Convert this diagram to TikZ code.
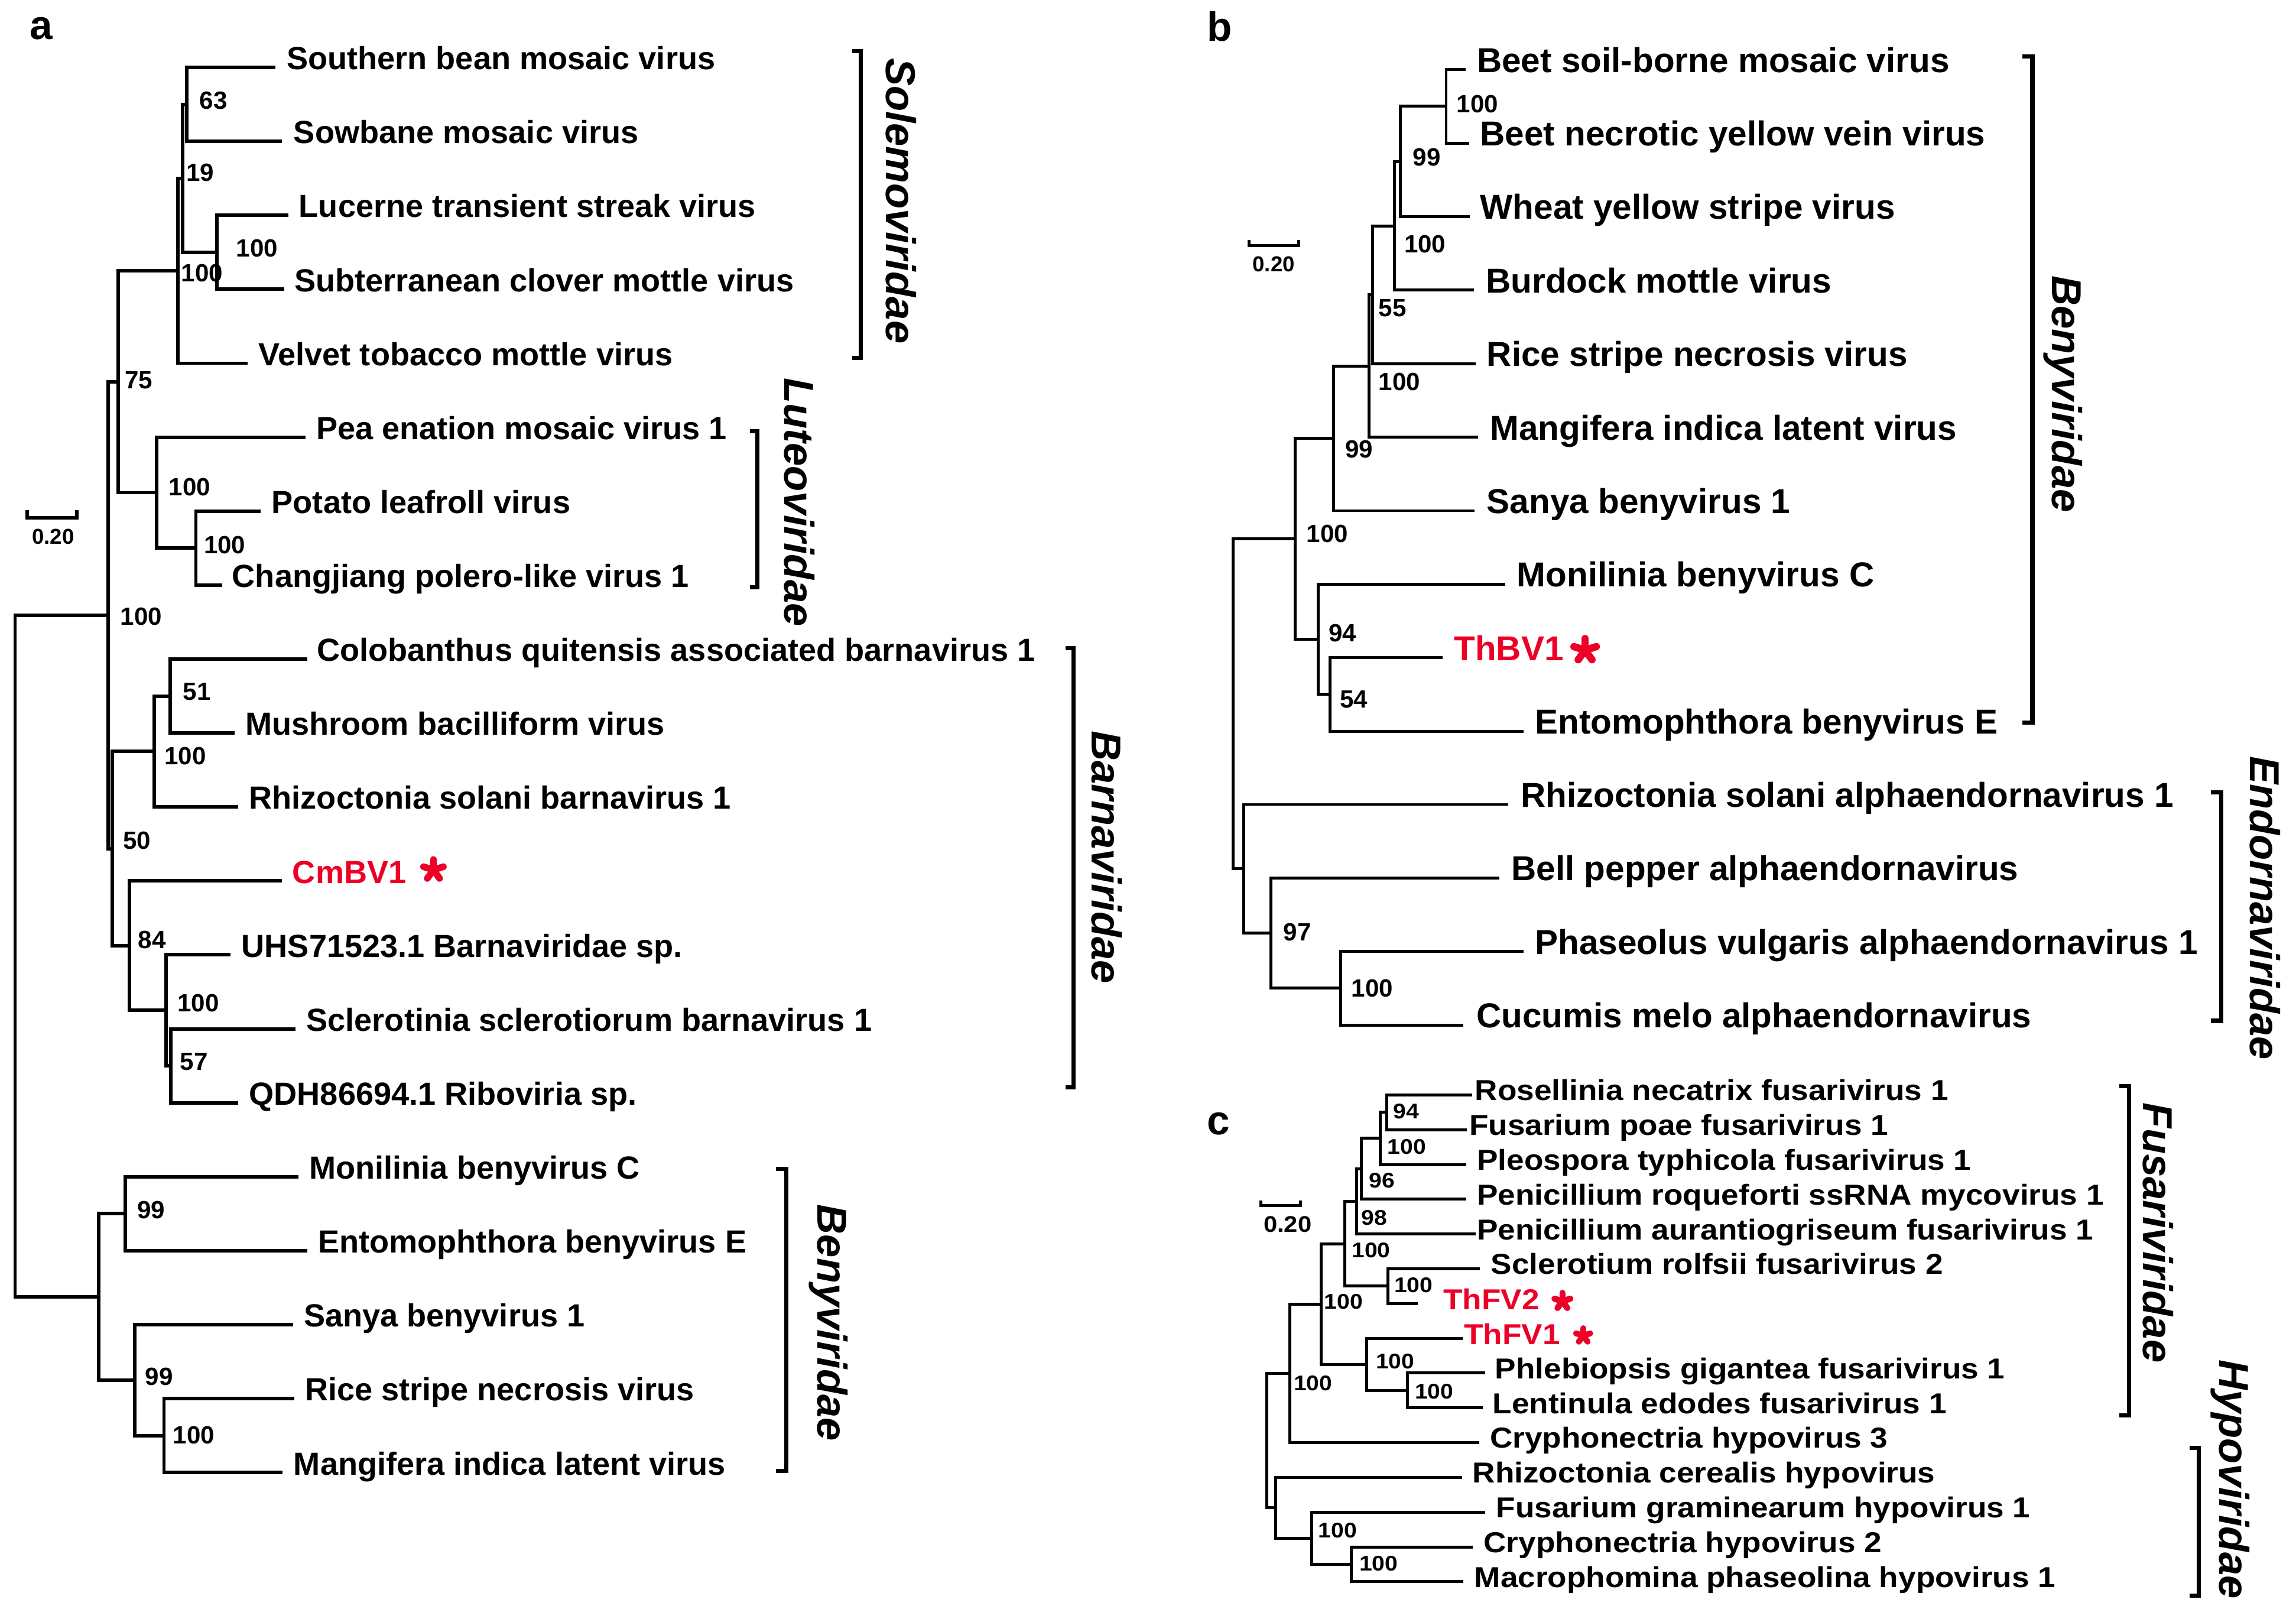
\documentclass[tikz,border=0pt]{standalone}
\usepackage{fontspec}
\setmainfont{Liberation Sans}
\newfontfamily\cfont{Liberation Sans}[FakeStretch=1.09]
\definecolor{tred}{RGB}{236,0,40}
\begin{document}
\begin{tikzpicture}[x=0.25mm,y=-0.25mm,
  treea/.style={line width=0.6mm},
  treeb/.style={line width=0.5mm},
  bracket/.style={line width=0.72mm},
  leafa/.style={anchor=base west,inner sep=0pt,font=\fontsize{15.54}{18}\selectfont\bfseries},
  leafb/.style={anchor=base west,inner sep=0pt,font=\fontsize{16.79}{19}\selectfont\bfseries},
  leafc/.style={anchor=base west,inner sep=0pt,font=\cfont\fontsize{14.0}{16}\selectfont\bfseries},
  boot/.style={anchor=west,inner sep=0pt,font=\fontsize{12.09}{14}\selectfont\bfseries},
  bootc/.style={anchor=west,inner sep=0pt,font=\cfont\fontsize{10.3}{12}\selectfont\bfseries},
  scalelab/.style={inner sep=0pt,font=\fontsize{10.5}{12}\selectfont\bfseries},
  scalelabc/.style={inner sep=0pt,font=\cfont\fontsize{11}{12}\selectfont\bfseries},
  family/.style={rotate=-90,inner sep=0pt,font=\fontsize{20.27}{24}\selectfont\bfseries\itshape},
  panel/.style={anchor=base west,inner sep=0pt,font=\fontsize{19.9}{24}\selectfont\bfseries},
  hl/.style={text=tred},
  starline/.style={tred,line cap=round}
]
\fill[white] (0,0) rectangle (1568,1096.2);
\useasboundingbox (0,0) rectangle (1568,1096.2);

% ---------------- panel letters
\node[panel] (pa) at (20,27) {a};
\node[panel] (pb) at (824,28) {b};
\node[panel] (pc) at (824,774.7) {c};

% ================= PANEL A =================
\coordinate (a1) at (187.9,46.0);
\coordinate (a2) at (192.5,96.5);
\coordinate (a3) at (196.9,147.0);
\coordinate (a4) at (194.3,197.5);
\coordinate (a5) at (169.1,248.0);
\coordinate (a6) at (208.5,298.5);
\coordinate (a7) at (178.1,349.0);
\coordinate (a8) at (151.9,399.5);
\coordinate (a9) at (209.8,450.0);
\coordinate (a10) at (160.1,500.5);
\coordinate (a11) at (162.7,551.0);
\coordinate (a12) at (192.5,601.5);
\coordinate (a13) at (157.5,652.0);
\coordinate (a14) at (202.0,702.5);
\coordinate (a15) at (162.7,753.0);
\coordinate (a16) at (203.9,803.5);
\coordinate (a17) at (209.8,854.0);
\coordinate (a18) at (200.0,904.5);
\coordinate (a19) at (200.8,955.0);
\coordinate (a20) at (193.0,1005.5);

\node[leafa] (ta1) at (195.6,47.5) {Southern bean mosaic virus};
\node[leafa] (ta2) at (200.3,98.0) {Sowbane mosaic virus};
\node[leafa] (ta3) at (203.9,148.5) {Lucerne transient streak virus};
\node[leafa] (ta4) at (200.8,199.0) {Subterranean clover mottle virus};
\node[leafa] (ta5) at (176.3,249.5) {Velvet tobacco mottle virus};
\node[leafa] (ta6) at (215.7,300.0) {Pea enation mosaic virus 1};
\node[leafa] (ta7) at (185.3,350.5) {Potato leafroll virus};
\node[leafa] (ta8) at (158.3,401.0) {Changjiang polero-like virus 1};
\node[leafa] (ta9) at (216.2,451.5) {Colobanthus quitensis associated barnavirus 1};
\node[leafa] (ta10) at (167.3,502.0) {Mushroom bacilliform virus};
\node[leafa] (ta11) at (169.9,552.5) {Rhizoctonia solani barnavirus 1};
\node[leafa,hl] (ta12) at (199.5,603.0) {CmBV1};
\node[leafa] (ta13) at (164.7,653.5) {UHS71523.1 Barnaviridae sp.};
\node[leafa] (ta14) at (209.0,704.0) {Sclerotinia sclerotiorum barnavirus 1};
\node[leafa] (ta15) at (169.9,754.5) {QDH86694.1 Riboviria sp.};
\node[leafa] (ta16) at (211.0,805.0) {Monilinia benyvirus C};
\node[leafa] (ta17) at (217.0,855.5) {Entomophthora benyvirus E};
\node[leafa] (ta18) at (207.2,906.0) {Sanya benyvirus 1};
\node[leafa] (ta19) at (208.0,956.5) {Rice stripe necrosis virus};
\node[leafa] (ta20) at (200.3,1007.0) {Mangifera indica latent virus};

\coordinate (nA) at (127.4,71.25);
\coordinate (nB) at (148.0,172.25);
\coordinate (nC) at (124.8,121.75);
\coordinate (nD) at (121.5,184.9);
\coordinate (nH) at (133.8,374.25);
\coordinate (nG) at (106.8,336.4);
\coordinate (nE) at (80.6,260.6);
\coordinate (nL) at (116.3,475.25);
\coordinate (nK) at (105.5,513.1);
\coordinate (nO) at (116.6,727.75);
\coordinate (nN) at (113.3,689.9);
\coordinate (nM) at (88.3,645.7);
\coordinate (nJ) at (76.5,579.4);
\coordinate (nF) at (74.0,420.0);
\coordinate (nQ) at (85.7,828.75);
\coordinate (nS) at (112.0,980.25);
\coordinate (nR) at (91.9,942.4);
\coordinate (nP) at (67.4,885.6);
\coordinate (nroot) at (10.3,652.8);

\draw[treea] (nA) |- (a1);  \draw[treea] (nA) |- (a2);
\draw[treea] (nB) |- (a3);  \draw[treea] (nB) |- (a4);
\draw[treea] (nC) |- (nA);  \draw[treea] (nC) |- (nB);
\draw[treea] (nD) |- (nC);  \draw[treea] (nD) |- (a5);
\draw[treea] (nH) |- (a7);  \draw[treea] (nH) |- (a8);
\draw[treea] (nG) |- (a6);  \draw[treea] (nG) |- (nH);
\draw[treea] (nE) |- (nD);  \draw[treea] (nE) |- (nG);
\draw[treea] (nL) |- (a9);  \draw[treea] (nL) |- (a10);
\draw[treea] (nK) |- (nL);  \draw[treea] (nK) |- (a11);
\draw[treea] (nO) |- (a14); \draw[treea] (nO) |- (a15);
\draw[treea] (nN) |- (a13); \draw[treea] (nN) |- (nO);
\draw[treea] (nM) |- (a12); \draw[treea] (nM) |- (nN);
\draw[treea] (nJ) |- (nK);  \draw[treea] (nJ) |- (nM);
\draw[treea] (nF) |- (nE);  \draw[treea] (nF) |- (nJ);
\draw[treea] (nQ) |- (a16); \draw[treea] (nQ) |- (a17);
\draw[treea] (nS) |- (a19); \draw[treea] (nS) |- (a20);
\draw[treea] (nR) |- (a18); \draw[treea] (nR) |- (nS);
\draw[treea] (nP) |- (nQ);  \draw[treea] (nP) |- (nR);
\draw[treea] (nroot) |- (nF); \draw[treea] (nroot) |- (nP);

\node[boot] (bA) at (136,68.5) {63};
\node[boot] (bC) at (127,118) {19};
\node[boot] (bB) at (161,169.5) {100};
\node[boot] (bD) at (123.5,186.5) {100};
\node[boot] (bE) at (85,259.4) {75};
\node[boot] (bG) at (115,332.6) {100};
\node[boot] (bH) at (139,372) {100};
\node[boot] (bF) at (82,420.8) {100};
\node[boot] (bL) at (124.8,472.2) {51};
\node[boot] (bK) at (112,516.3) {100};
\node[boot] (bJ) at (83.7,574.1) {50};
\node[boot] (bM) at (94,641.7) {84};
\node[boot] (bN) at (121,684.9) {100};
\node[boot] (bO) at (122.8,724.9) {57};
\node[boot] (bQ) at (93.4,826.1) {99};
\node[boot] (bR) at (99,939.9) {99};
\node[boot] (bS) at (117.9,979.8) {100};

% scale bar a
\draw[treea] (18.5,348.5) -- (18.5,353.5) -- (52.3,353.5) -- (52.3,348.5);
\node[scalelab] (sca) at (36.3,366.4) {0.20};

% star CmBV1
\coordinate (sta) at (296,594);
\foreach \ang in {270,342,198,54,126} \draw[starline,line width=1.15mm] (sta) -- ++(\ang:7.1);

% brackets a
\draw[bracket] (582,34.8) -- (588,34.8) -- (588,244.3) -- (582,244.3);
\draw[bracket] (512,294.4) -- (517.2,294.4) -- (517.2,400.8) -- (512,400.8);
\draw[bracket] (727.5,442.6) -- (733,442.6) -- (733,742.4) -- (727.5,742.4);
\draw[bracket] (530,798.2) -- (537,798.2) -- (537,1004.5) -- (530,1004.5);
\node[family] (fa1) at (615.5,137.2) {Solemoviridae};
\node[family] (fa2) at (546,342.9) {Luteoviridae};
\node[family] (fa3) at (755.7,585.3) {Barnaviridae};
\node[family] (fa4) at (565.8,903.3) {Benyviridae};

% ================= PANEL B =================
\coordinate (b1) at (1001.0,47.5);
\coordinate (b2) at (1003.3,97.7);
\coordinate (b3) at (1003.9,147.9);
\coordinate (b4) at (1006.6,198.1);
\coordinate (b5) at (1007.7,248.3);
\coordinate (b6) at (1009.5,298.5);
\coordinate (b7) at (1006.8,348.7);
\coordinate (b8) at (1027.9,398.9);
\coordinate (b9) at (985.3,449.1);
\coordinate (b10) at (1040.4,499.3);
\coordinate (b11) at (1030.1,549.3);
\coordinate (b12) at (1024.1,599.5);
\coordinate (b13) at (1040.4,649.7);
\coordinate (b14) at (999.5,699.9);

\node[leafb] (tb1) at (1008.4,49.3) {Beet soil-borne mosaic virus};
\node[leafb] (tb2) at (1010.6,99.5) {Beet necrotic yellow vein virus};
\node[leafb] (tb3) at (1010.6,149.7) {Wheat yellow stripe virus};
\node[leafb] (tb4) at (1014.5,199.9) {Burdock mottle virus};
\node[leafb] (tb5) at (1015.1,250.1) {Rice stripe necrosis virus};
\node[leafb] (tb6) at (1017.4,300.3) {Mangifera indica latent virus};
\node[leafb] (tb7) at (1015.1,350.5) {Sanya benyvirus 1};
\node[leafb] (tb8) at (1035.7,400.7) {Monilinia benyvirus C};
\node[leafb,hl] (tb9) at (992.7,450.9) {ThBV1};
\node[leafb] (tb10) at (1048.0,501.1) {Entomophthora benyvirus E};
\node[leafb] (tb11) at (1038.2,551.1) {Rhizoctonia solani alphaendornavirus 1};
\node[leafb] (tb12) at (1031.9,601.3) {Bell pepper alphaendornavirus};
\node[leafb] (tb13) at (1048.0,651.5) {Phaseolus vulgaris alphaendornavirus 1};
\node[leafb] (tb14) at (1008.0,701.7) {Cucumis melo alphaendornavirus};

\coordinate (m1) at (987.6,72.6);
\coordinate (m2) at (956.2,110.25);
\coordinate (m3) at (952.4,154.2);
\coordinate (m4) at (937.2,201.25);
\coordinate (m5) at (935.0,249.9);
\coordinate (m6) at (910.6,299.3);
\coordinate (m9) at (908.3,474.2);
\coordinate (m8) at (900.3,436.55);
\coordinate (m7) at (884.6,367.9);
\coordinate (m12) at (915.5,674.8);
\coordinate (m11) at (868.0,637.15);
\coordinate (m10) at (849.4,593.2);
\coordinate (m0) at (842.3,480.6);

\draw[treeb] (m1) |- (b1);  \draw[treeb] (m1) |- (b2);
\draw[treeb] (m2) |- (m1);  \draw[treeb] (m2) |- (b3);
\draw[treeb] (m3) |- (m2);  \draw[treeb] (m3) |- (b4);
\draw[treeb] (m4) |- (m3);  \draw[treeb] (m4) |- (b5);
\draw[treeb] (m5) |- (m4);  \draw[treeb] (m5) |- (b6);
\draw[treeb] (m6) |- (m5);  \draw[treeb] (m6) |- (b7);
\draw[treeb] (m9) |- (b9);  \draw[treeb] (m9) |- (b10);
\draw[treeb] (m8) |- (b8);  \draw[treeb] (m8) |- (m9);
\draw[treeb] (m7) |- (m6);  \draw[treeb] (m7) |- (m8);
\draw[treeb] (m12) |- (b13); \draw[treeb] (m12) |- (b14);
\draw[treeb] (m11) |- (b12); \draw[treeb] (m11) |- (m12);
\draw[treeb] (m10) |- (b11); \draw[treeb] (m10) |- (m11);
\draw[treeb] (m0) |- (m7);  \draw[treeb] (m0) |- (m10);

\node[boot] (bm1) at (994.5,71.2) {100};
\node[boot] (bm2) at (964.7,107.5) {99};
\node[boot] (bm3) at (958.7,166.8) {100};
\node[boot] (bm4) at (941.2,210.5) {55};
\node[boot] (bm5) at (941.2,260.9) {100};
\node[boot] (bm6) at (918.4,306.8) {99};
\node[boot] (bm7) at (892,364.5) {100};
\node[boot] (bm8) at (907.2,432.2) {94};
\node[boot] (bm9) at (914.8,477.6) {54};
\node[boot] (bm11) at (876.3,636.6) {97};
\node[boot] (bm12) at (922.6,674.7) {100};

\draw[treeb] (853.2,163.8) -- (853.2,167.5) -- (887,167.5) -- (887,163.8);
\node[scalelab] (scb) at (869.8,180.3) {0.20};

\coordinate (stb) at (1082.5,444);
\foreach \ang in {270,342,198,54,126} \draw[starline,line width=1.25mm] (stb) -- ++(\ang:8.0);

\draw[bracket] (1381,38.5) -- (1388,38.5) -- (1388,493.5) -- (1381,493.5);
\draw[bracket] (1510,541) -- (1517,541) -- (1517,697) -- (1510,697);
\node[family] (fb1) at (1409,269) {Benyviridae};
\node[family] (fb2) at (1547,620) {Endornaviridae};

% ================= PANEL C =================
\coordinate (c1) at (1005.4,747.6);
\coordinate (c2) at (1001.9,771.3);
\coordinate (c3) at (1001.4,795.1);
\coordinate (c4) at (1001.4,818.8);
\coordinate (c5) at (1007.8,842.6);
\coordinate (c6) at (1010.6,866.3);
\coordinate (c7) at (968.2,890.1);
\coordinate (c8) at (998.8,913.8);
\coordinate (c9) at (1014.4,937.5);
\coordinate (c10) at (1012.5,961.3);
\coordinate (c11) at (1010.1,985.0);
\coordinate (c12) at (998.4,1008.8);
\coordinate (c13) at (1014.4,1032.5);
\coordinate (c14) at (1005.9,1056.3);
\coordinate (c15) at (999.5,1080.0);

\node[leafc] (tc1) at (1007.1,751.4) {Rosellinia necatrix fusarivirus 1};
\node[leafc] (tc2) at (1003.1,775.1) {Fusarium poae fusarivirus 1};
\node[leafc] (tc3) at (1008.5,798.9) {Pleospora typhicola fusarivirus 1};
\node[leafc] (tc4) at (1008.5,822.6) {Penicillium roqueforti ssRNA mycovirus 1};
\node[leafc] (tc5) at (1008.5,846.4) {Penicillium aurantiogriseum fusarivirus 1};
\node[leafc] (tc6) at (1017.9,870.1) {Sclerotium rolfsii fusarivirus 2};
\node[leafc,hl] (tc7) at (985.4,894.2) {ThFV2};
\node[leafc,hl] (tc8) at (999.5,917.8) {ThFV1};
\node[leafc] (tc9) at (1020.8,941.3) {Phlebiopsis gigantea fusarivirus 1};
\node[leafc] (tc10) at (1019.1,965.1) {Lentinula edodes fusarivirus 1};
\node[leafc] (tc11) at (1017.2,988.8) {Cryphonectria hypovirus 3};
\node[leafc] (tc12) at (1005.4,1012.6) {Rhizoctonia cerealis hypovirus};
\node[leafc] (tc13) at (1021.5,1036.3) {Fusarium graminearum hypovirus 1};
\node[leafc] (tc14) at (1013.0,1060.1) {Cryphonectria hypovirus 2};
\node[leafc] (tc15) at (1006.6,1083.8) {Macrophomina phaseolina hypovirus 1};

\coordinate (k1) at (947.0,759.45);
\coordinate (k2) at (942.5,777.3);
\coordinate (k3) at (929.5,798.05);
\coordinate (k4) at (926.5,820.3);
\coordinate (k6) at (947.7,878.2);
\coordinate (k5) at (918.2,849.25);
\coordinate (k9) at (961.1,949.4);
\coordinate (k8) at (933.5,931.6);
\coordinate (k7) at (902.2,890.4);
\coordinate (k10) at (881.0,937.7);
\coordinate (k13) at (922.9,1068.15);
\coordinate (k12) at (895.8,1050.3);
\coordinate (k11) at (871.1,1029.55);
\coordinate (k0) at (865.2,983.6);

\draw[treeb] (k1) |- (c1);  \draw[treeb] (k1) |- (c2);
\draw[treeb] (k2) |- (k1);  \draw[treeb] (k2) |- (c3);
\draw[treeb] (k3) |- (k2);  \draw[treeb] (k3) |- (c4);
\draw[treeb] (k4) |- (k3);  \draw[treeb] (k4) |- (c5);
\draw[treeb] (k6) |- (c6);  \draw[treeb] (k6) |- (c7);
\draw[treeb] (k5) |- (k4);  \draw[treeb] (k5) |- (k6);
\draw[treeb] (k9) |- (c9);  \draw[treeb] (k9) |- (c10);
\draw[treeb] (k8) |- (c8);  \draw[treeb] (k8) |- (k9);
\draw[treeb] (k7) |- (k5);  \draw[treeb] (k7) |- (k8);
\draw[treeb] (k10) |- (k7); \draw[treeb] (k10) |- (c11);
\draw[treeb] (k13) |- (c14); \draw[treeb] (k13) |- (c15);
\draw[treeb] (k12) |- (c13); \draw[treeb] (k12) |- (k13);
\draw[treeb] (k11) |- (c12); \draw[treeb] (k11) |- (k12);
\draw[treeb] (k0) |- (k10); \draw[treeb] (k0) |- (k11);

\node[bootc] (bk1) at (951.2,758.9) {94};
\node[bootc] (bk2) at (947.2,783) {100};
\node[bootc] (bk3) at (934.7,806.1) {96};
\node[bootc] (bk4) at (929.5,831.3) {98};
\node[bootc] (bk5) at (922.9,853.7) {100};
\node[bootc] (bk6) at (951.9,877.3) {100};
\node[bootc] (bk7) at (904,888.6) {100};
\node[bootc] (bk8) at (939.4,929.6) {100};
\node[bootc] (bk9) at (966,950.3) {100};
\node[bootc] (bk10) at (883.3,944.5) {100};
\node[bootc] (bk12) at (900,1045.1) {100};
\node[bootc] (bk13) at (928.1,1067.5) {100};

\draw[treeb] (861.2,819.6) -- (861.2,823.2) -- (888.3,823.2) -- (888.3,819.6);
\node[scalelabc] (scc) at (879.3,836) {0.20};

\coordinate (stc1) at (1067,888.5);
\foreach \ang in {270,342,198,54,126} \draw[starline,line width=1.05mm] (stc1) -- ++(\ang:5.7);
\coordinate (stc2) at (1081.2,912);
\foreach \ang in {270,342,198,54,126} \draw[starline,line width=1.0mm] (stc2) -- ++(\ang:5.1);

\draw[bracket] (1447.5,741.5) -- (1454,741.5) -- (1454,966.3) -- (1447.5,966.3);
\draw[bracket] (1495.3,988.5) -- (1501.7,988.5) -- (1501.7,1089.5) -- (1495.3,1089.5);
\node[family] (fc1) at (1474,841.8) {Fusariviridae};
\node[family] (fc2) at (1523,1010) {Hypoviridae};

\end{tikzpicture}
\end{document}
